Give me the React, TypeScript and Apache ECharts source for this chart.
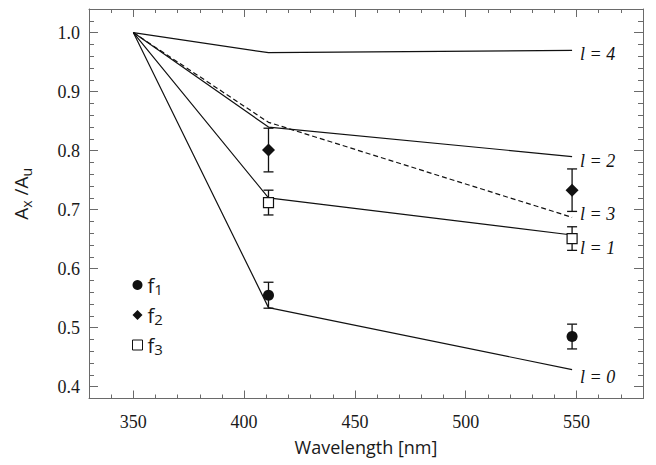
import React, { useEffect, useRef } from 'react';
import * as echarts from 'echarts';

// Wavelengths of the model curves [nm]
const wavelengths = [350, 411, 548];
// Model curves Ax/Au for l = 0..4
const curveL0 = [1.0, 0.534, 0.429];
const curveL1 = [1.0, 0.72, 0.657];
const curveL2 = [1.0, 0.84, 0.79];
const curveL3 = [1.0, 0.848, 0.687];
const curveL4 = [1.0, 0.966, 0.97];
const curveLabels = ['l = 0', 'l = 1', 'l = 2', 'l = 3', 'l = 4'];

// Measurements
const measWavelengths = [411, 548];
const f1Values = [0.555, 0.485];
const f1Errors = [0.022, 0.021];
const f2Values = [0.801, 0.733];
const f2Errors = [0.037, 0.036];
const f3Values = [0.712, 0.651];
const f3Errors = [0.021, 0.02];
const seriesNames = ['f1', 'f2', 'f3'];

// Tick labels
const xTickLabels = [350, 400, 450, 500, 550];
const yTickLabels = [0.4, 0.5, 0.6, 0.7, 0.8, 0.9, 1.0];

const FRAME = '#6a6a6a';
const INK = '#111111';
const SERIF = 'Liberation Serif';
const SANS = 'Open Sans';

export default function App() {
  const ref = useRef<HTMLDivElement>(null);

  useEffect(() => {
    if (!ref.current) return;
    const chart = echarts.init(ref.current, undefined, { renderer: 'svg' });

    const curves = [curveL0, curveL1, curveL2, curveL3, curveL4];
    const labelDy = [7, 13, 4, -3, 4];

    const lineSeries = curves.map((c, i) => ({
      type: 'line',
      name: curveLabels[i],
      data: wavelengths.map((w, j) => [w, c[j]]),
      symbol: 'none',
      silent: true,
      z: 2,
      lineStyle: { color: INK, width: 1.2, type: i === 3 ? [5, 3] : 'solid' },
      endLabel: {
        show: true,
        formatter: curveLabels[i],
        fontFamily: SERIF,
        fontStyle: 'italic',
        fontSize: 18,
        color: INK,
        distance: 8,
        offset: [0, labelDy[i]],
      },
    }));

    const meas = [
      { v: f1Values, e: f1Errors, symbol: 'circle', size: 11, fill: INK },
      { v: f2Values, e: f2Errors, symbol: 'diamond', size: 13, fill: INK },
      { v: f3Values, e: f3Errors, symbol: 'rect', size: 10, fill: '#ffffff' },
    ];

    const errSeries = meas.map((m, k) => ({
      type: 'custom',
      name: 'err' + k,
      silent: true,
      z: 3,
      data: measWavelengths.map((w, j) => [w, m.v[j], m.v[j] - m.e[j], m.v[j] + m.e[j]]),
      renderItem: (params: any, api: any) => {
        const x = api.value(0);
        const lo = api.coord([x, api.value(2)]);
        const hi = api.coord([x, api.value(3)]);
        const cap = 5;
        const style = { stroke: INK, lineWidth: 1.3 };
        return {
          type: 'group',
          children: [
            { type: 'line', shape: { x1: lo[0], y1: lo[1], x2: hi[0], y2: hi[1] }, style },
            { type: 'line', shape: { x1: lo[0] - cap, y1: lo[1], x2: lo[0] + cap, y2: lo[1] }, style },
            { type: 'line', shape: { x1: hi[0] - cap, y1: hi[1], x2: hi[0] + cap, y2: hi[1] }, style },
          ],
        };
      },
    }));

    const scatterSeries = meas.map((m, k) => ({
      type: 'scatter',
      name: seriesNames[k],
      symbol: m.symbol,
      symbolSize: m.size,
      z: 5,
      itemStyle: {
        color: m.fill,
        opacity: 1,
        borderColor: INK,
        borderWidth: m.fill === INK ? 0 : 1.2,
      },
      data: measWavelengths.map((w, j) => [w, m.v[j]]),
    }));

    const serifLabel = {
      fontFamily: SERIF,
      fontSize: 18,
      color: '#1a1a1a',
    };

    const majorX = (pos: string, labels: boolean) => ({
      type: 'value',
      position: pos,
      min: 330,
      max: 580,
      minInterval: 50,
      maxInterval: 50,
      axisLine: { show: true, onZero: false, lineStyle: { color: FRAME, width: 1 } },
      axisTick: { show: true, inside: true, length: 8, lineStyle: { color: FRAME } },
      splitLine: { show: false },
      axisLabel: labels
        ? {
            show: true,
            showMinLabel: false,
            showMaxLabel: false,
            margin: 14,
            ...serifLabel,
            formatter: (v: number) =>
              xTickLabels.includes(Math.round(v)) ? String(Math.round(v)) : '',
          }
        : { show: false },
      ...(labels
        ? {
            name: 'Wavelength [nm]',
            nameLocation: 'middle',
            nameGap: 39,
            nameTextStyle: { fontFamily: SANS, fontSize: 18, color: '#1a1a1a' },
          }
        : {}),
    });
    const minorX = (pos: string) => ({
      type: 'value',
      position: pos,
      min: 330,
      max: 580,
      interval: 10,
      axisLine: { show: false, onZero: false },
      axisTick: { show: true, inside: true, length: 4, lineStyle: { color: FRAME } },
      splitLine: { show: false },
      axisLabel: { show: false },
    });
    const majorY = (pos: string, labels: boolean) => ({
      type: 'value',
      position: pos,
      min: 0.38,
      max: 1.04,
      minInterval: 0.1,
      maxInterval: 0.1,
      axisLine: { show: true, onZero: false, lineStyle: { color: FRAME, width: 1 } },
      axisTick: { show: true, inside: true, length: 9, lineStyle: { color: FRAME } },
      splitLine: { show: false },
      axisLabel: labels
        ? {
            show: true,
            showMinLabel: false,
            showMaxLabel: false,
            margin: 9,
            ...serifLabel,
            formatter: (v: number) =>
              yTickLabels.some((t) => Math.abs(t - v) < 1e-6) ? v.toFixed(1) : '',
          }
        : { show: false },
      ...(labels
        ? {
            name: 'A{s|x} /A{s|u}',
            nameLocation: 'middle',
            nameGap: 56,
            nameTextStyle: {
              fontFamily: SANS,
              fontSize: 19,
              color: '#1a1a1a',
              lineHeight: 24,
              padding: [0, 0, 0, 20],
              rich: {
                s: { fontFamily: SANS, fontSize: 14, color: '#1a1a1a', lineHeight: 13, verticalAlign: 'bottom' },
              },
            },
          }
        : {}),
    });
    const minorY = (pos: string) => ({
      type: 'value',
      position: pos,
      min: 0.38,
      max: 1.04,
      interval: 0.02,
      axisLine: { show: false, onZero: false },
      axisTick: { show: true, inside: true, length: 5, lineStyle: { color: FRAME } },
      splitLine: { show: false },
      axisLabel: { show: false },
    });

    chart.setOption({
      animation: false,
      backgroundColor: '#ffffff',
      textStyle: { fontFamily: SERIF },
      grid: { left: 89, right: 13, top: 9, bottom: 66.5, containLabel: false },
      xAxis: [majorX('bottom', true), majorX('top', false), minorX('bottom'), minorX('top')],
      yAxis: [majorY('left', true), majorY('right', false), minorY('left'), minorY('right')],
      legend: {
        show: true,
        orient: 'vertical',
        left: 127,
        top: 270,
        itemWidth: 10,
        itemHeight: 10,
        itemGap: 9,
        selectedMode: false,
        data: [
          { name: 'f1', icon: 'circle' },
          { name: 'f2', icon: 'diamond' },
          { name: 'f3', icon: 'rect', itemStyle: { color: '#ffffff', borderColor: INK, borderWidth: 1 } },
        ],
        formatter: (name: string) => `{f|${name.slice(0, 1)}}{s|${name.slice(1)}}`,
        textStyle: {
          color: '#1a1a1a',
          fontFamily: SANS,
          rich: {
            f: { fontFamily: SANS, fontSize: 20, color: '#1a1a1a', lineHeight: 22 },
            s: { fontFamily: SANS, fontSize: 15, color: '#1a1a1a', lineHeight: 12, verticalAlign: 'bottom' },
          },
        },
      },
      series: [...lineSeries, ...errSeries, ...scatterSeries],
    });

    return () => chart.dispose();
  }, []);

  return (
    <div
      ref={ref}
      style={{ position: 'absolute', left: 0, top: 0, width: 656, height: 465 }}
    />
  );
}
